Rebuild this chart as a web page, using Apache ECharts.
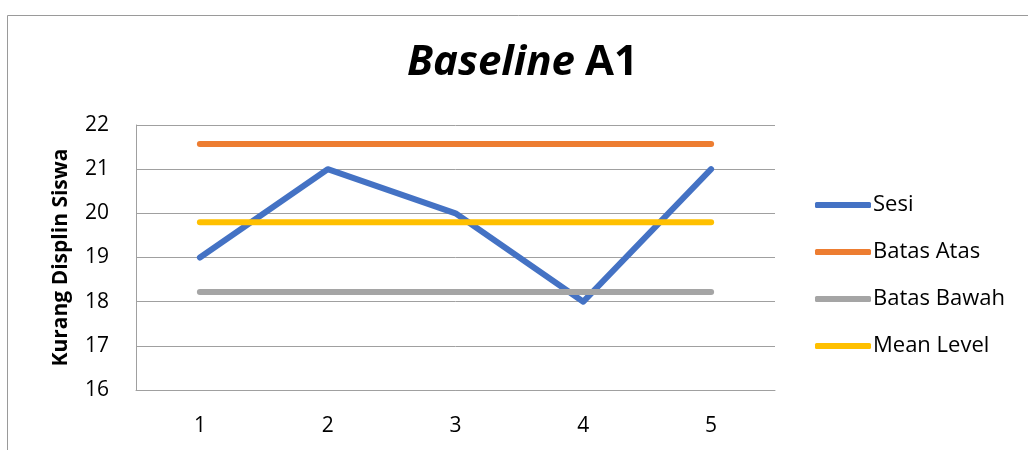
<!DOCTYPE html>
<html>
<head>
<meta charset="utf-8">
<script src="https://cdn.jsdelivr.net/npm/echarts@6/dist/echarts.min.js"></script>
<style>
  html, body { margin: 0; padding: 0; background: #ffffff; }
  #chart { width: 1028px; height: 450px; }
</style>
</head>
<body>
<div id="chart"></div>
<script>
// Sessions on the x axis
const sessions = ['1', '2', '3', '4', '5'];
// Observed scores per session
const sesi = [19, 21, 20, 18, 21];
// Stability envelope and mean level
const batasAtas = [21.57, 21.57, 21.57, 21.57, 21.57];
const batasBawah = [18.22, 18.22, 18.22, 18.22, 18.22];
const meanLevel = [19.8, 19.8, 19.8, 19.8, 19.8];

const FONT = '"Open Sans", "Noto Sans", sans-serif';

const chart = echarts.init(document.getElementById('chart'), null, { renderer: 'canvas' });

function lineSeries(name, data, color, z) {
  return {
    name: name,
    type: 'line',
    data: data,
    symbol: 'none',
    z: z,
    lineStyle: { width: 6, color: color, cap: 'round', join: 'round' },
    itemStyle: { color: color }
  };
}

chart.setOption({
  animation: false,
  backgroundColor: '#ffffff',
  graphic: [{
    type: 'rect',
    left: 5, top: 13,
    shape: { width: 1040, height: 460 },
    style: { fill: 'none', stroke: '#9a9a9a', lineWidth: 1 },
    silent: true
  }],
  title: {
    text: '{i|Baseline}  {b|A1}',
    left: 407,
    top: 42,
    padding: 0,
    textStyle: {
      rich: {
        i: { fontFamily: FONT, fontSize: 42, fontWeight: 'bold', fontStyle: 'italic', color: '#000' },
        b: { fontFamily: FONT, fontSize: 42, fontWeight: 'bold', color: '#000' }
      }
    }
  },
  grid: { left: 136, right: 253, top: 125, bottom: 60 },
  legend: {
    orient: 'vertical',
    left: 815,
    top: 192,
    padding: 0,
    itemWidth: 56,
    itemHeight: 6,
    itemGap: 21,
    icon: 'roundRect',
    textStyle: { fontFamily: FONT, fontSize: 22, lineHeight: 26, color: '#000', padding: [0, 0, 0, -3] },
    data: ['Sesi', 'Batas Atas', 'Batas Bawah', 'Mean Level']
  },
  xAxis: {
    type: 'category',
    data: sessions,
    boundaryGap: true,
    axisLine: { show: true, lineStyle: { color: '#a0a0a0', width: 1 } },
    axisTick: { show: false },
    axisLabel: { fontFamily: FONT, fontSize: 21, color: '#000', margin: 26 }
  },
  yAxis: {
    type: 'value',
    min: 16,
    max: 22,
    interval: 1,
    name: 'Kurang Displin Siswa',
    nameLocation: 'middle',
    nameGap: 64,
    nameRotate: 90,
    nameTextStyle: { fontFamily: FONT, fontSize: 21, fontWeight: 'bold', color: '#000' },
    axisLine: { show: true, lineStyle: { color: '#a0a0a0', width: 1 } },
    axisTick: { show: false },
    splitLine: { show: true, lineStyle: { color: '#a0a0a0', width: 1 } },
    axisLabel: { fontFamily: FONT, fontSize: 21, color: '#000', margin: 27 }
  },
  series: [
    lineSeries('Sesi', sesi, '#4472C4', 2),
    lineSeries('Batas Atas', batasAtas, '#ED7D31', 3),
    lineSeries('Batas Bawah', batasBawah, '#A5A5A5', 4),
    lineSeries('Mean Level', meanLevel, '#FFC000', 5)
  ]
});
</script>
</body>
</html>
